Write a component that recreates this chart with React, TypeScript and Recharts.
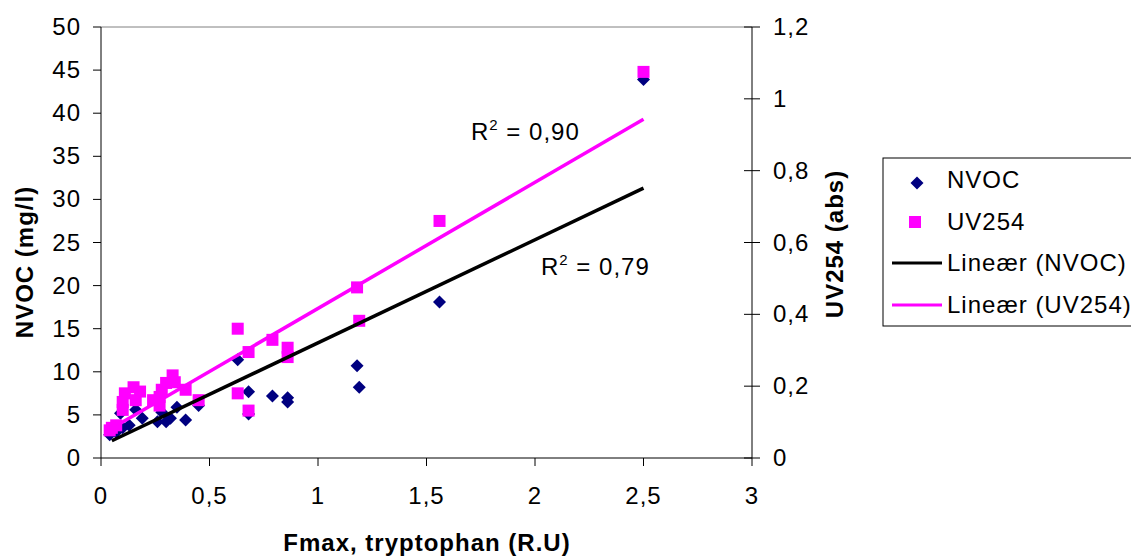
import { ReferenceLine, Scatter, ScatterChart, XAxis, YAxis } from "recharts";

const FONT = '"Liberation Sans", Arial, sans-serif';
const NAVY = "#000080";
const MAGENTA = "#FF00FF";

// NVOC (mg/l) against Fmax tryptophan
const fmaxNvoc = [0.04, 0.07, 0.1, 0.09, 0.13, 0.16, 0.19, 0.26, 0.28, 0.3, 0.32, 0.35, 0.39, 0.45, 0.63, 0.68, 0.68, 0.79, 0.86, 0.86, 1.18, 1.19, 1.56, 2.5];
const nvoc = [2.7, 3.0, 3.5, 5.2, 3.8, 5.6, 4.6, 4.2, 5.3, 4.2, 4.6, 5.9, 4.4, 6.1, 11.4, 7.7, 5.1, 7.2, 7.0, 6.5, 10.7, 8.2, 18.1, 43.9];

// UV254 (abs) against Fmax tryptophan
const fmaxUv = [0.04, 0.05, 0.07, 0.1, 0.1, 0.11, 0.15, 0.16, 0.18, 0.24, 0.27, 0.27, 0.28, 0.3, 0.33, 0.34, 0.39, 0.45, 0.63, 0.63, 0.68, 0.68, 0.79, 0.86, 0.86, 1.18, 1.19, 1.56, 2.5];
const uv254 = [0.077, 0.084, 0.091, 0.134, 0.156, 0.18, 0.197, 0.161, 0.185, 0.161, 0.146, 0.17, 0.19, 0.209, 0.23, 0.211, 0.19, 0.161, 0.36, 0.18, 0.295, 0.132, 0.329, 0.307, 0.281, 0.475, 0.382, 0.66, 1.075];

// linear trendlines, ends
const trendX = [0.05, 2.5];
const nvocTrend = [2.0, 31.3];
const uvTrend = [0.083, 0.943];

const xTicks = [0, 0.5, 1, 1.5, 2, 2.5, 3];
const leftTicks = [0, 5, 10, 15, 20, 25, 30, 35, 40, 45, 50];
const rightTicks = [0, 0.2, 0.4, 0.6, 0.8, 1, 1.2];

const nvocData = fmaxNvoc.map((x, i) => ({ x, y: nvoc[i] }));
const uvData = fmaxUv.map((x, i) => ({ x, y: uv254[i] }));
const nvocLine = trendX.map((x, i) => ({ x, y: nvocTrend[i] }));
const uvLine = trendX.map((x, i) => ({ x, y: uvTrend[i] }));

const fmt = (v: number) => String(v).replace(".", ",");
const textStyle = { fontFamily: FONT, fontSize: 24, letterSpacing: 1, fill: "#000" };

const Diamond = (p: any) => (
  <polygon points={`${p.cx},${p.cy - 6.5} ${p.cx + 6.5},${p.cy} ${p.cx},${p.cy + 6.5} ${p.cx - 6.5},${p.cy}`} fill={NAVY} />
);
const Square = (p: any) => <rect x={p.cx - 6} y={p.cy - 6} width={12} height={12} fill={MAGENTA} />;
const NoDot = () => <g />;

const XTick = ({ x, y, payload }: any) => (
  <text x={x} y={y + 38} textAnchor="middle" style={textStyle}>{fmt(payload.value)}</text>
);
const LeftTick = ({ x, y, payload }: any) => (
  <text x={x - 12} y={y + 8} textAnchor="end" style={textStyle}>{fmt(payload.value)}</text>
);
const RightTick = ({ x, y, payload }: any) => (
  <g>
    <line x1={x - 16} x2={x - 8} y1={y} y2={y} stroke="#000" />
    <text x={x + 13} y={y + 8} textAnchor="start" style={textStyle}>{fmt(payload.value)}</text>
  </g>
);

export default function App() {
  return (
    <div style={{ position: "absolute", left: 0, top: 0, width: 1131, height: 557, overflow: "hidden", background: "#fff" }}>
      <ScatterChart width={1131} height={557} margin={{ top: 27, right: 299, bottom: 39, left: 21 }}>
        <XAxis type="number" dataKey="x" domain={[0, 3]} ticks={xTicks} height={60} tickSize={8} tickMargin={0}
          axisLine={{ stroke: "#000" }} tickLine={{ stroke: "#000" }} tick={<XTick />} allowDataOverflow />
        <YAxis yAxisId="left" type="number" dataKey="y" domain={[0, 50]} ticks={leftTicks} width={80} tickSize={8} tickMargin={0}
          axisLine={{ stroke: "#000" }} tickLine={{ stroke: "#000" }} tick={<LeftTick />} />
        <YAxis yAxisId="right" orientation="right" type="number" dataKey="y" domain={[0, 1.2]} ticks={rightTicks} width={80} tickSize={8} tickMargin={0}
          axisLine={{ stroke: "#000" }} tickLine={{ stroke: "#000" }} tick={<RightTick />} />
        <ReferenceLine yAxisId="left" y={50} stroke="#808080" />
        <Scatter yAxisId="left" data={nvocData} shape={Diamond} isAnimationActive={false} />
        <Scatter yAxisId="right" data={uvData} shape={Square} isAnimationActive={false} />
        <Scatter yAxisId="left" data={nvocLine} shape={NoDot} line={{ stroke: "#000", strokeWidth: 3.5 }} isAnimationActive={false} />
        <Scatter yAxisId="right" data={uvLine} shape={NoDot} line={{ stroke: MAGENTA, strokeWidth: 3.5 }} isAnimationActive={false} />
      </ScatterChart>
      <svg width={1131} height={557} style={{ position: "absolute", left: 0, top: 0, pointerEvents: "none" }}>
        <text x={427} y={551} textAnchor="middle" style={{ ...textStyle, fontWeight: "bold" }}>Fmax, tryptophan (R.U)</text>
        <text transform="translate(33,262) rotate(-90)" textAnchor="middle" style={{ ...textStyle, fontWeight: "bold" }}>NVOC (mg/l)</text>
        <text transform="translate(843,244) rotate(-90)" textAnchor="middle" style={{ ...textStyle, fontWeight: "bold" }}>UV254 (abs)</text>
        <text x={471} y={140} style={textStyle}>R<tspan dy={-10} fontSize={15}>2</tspan><tspan dy={10}> = 0,90</tspan></text>
        <text x={541} y={275} style={textStyle}>R<tspan dy={-10} fontSize={15}>2</tspan><tspan dy={10}> = 0,79</tspan></text>
        <rect x={883} y={158} width={260} height={168} fill="#fff" stroke="#000" />
        <polygon points="917,176.5 923.5,183 917,189.5 910.5,183" fill={NAVY} />
        <text x={947} y={188} style={textStyle}>NVOC</text>
        <rect x={909} y={216} width={12} height={12} fill={MAGENTA} />
        <text x={947} y={230} style={textStyle}>UV254</text>
        <line x1={892} x2={942} y1={263} y2={263} stroke="#000" strokeWidth={3} />
        <text x={947} y={271} style={textStyle}>Lineær (NVOC)</text>
        <line x1={892} x2={942} y1={305} y2={305} stroke={MAGENTA} strokeWidth={3} />
        <text x={947} y={313} style={textStyle}>Lineær (UV254)</text>
      </svg>
    </div>
  );
}
